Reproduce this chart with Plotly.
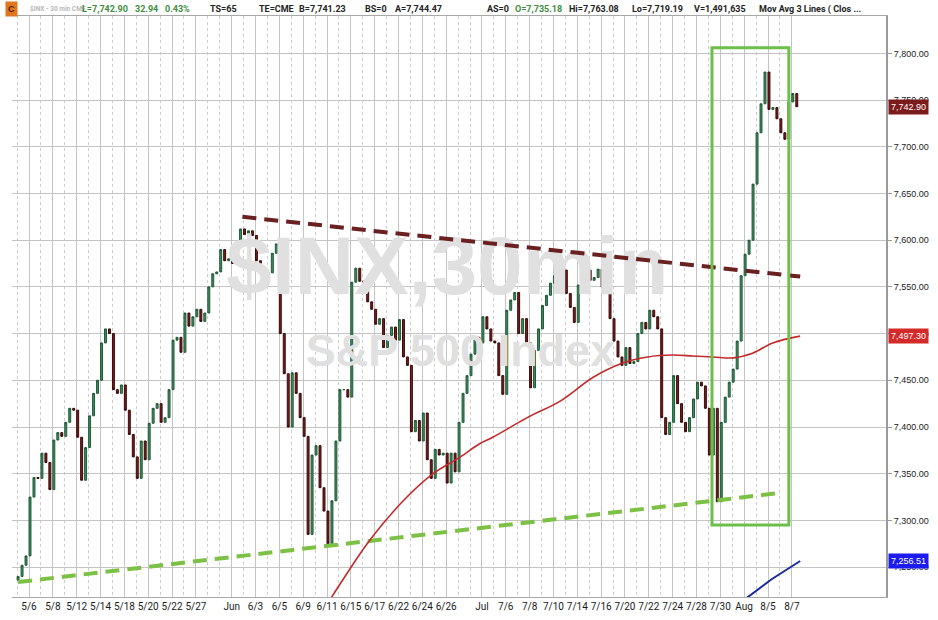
import plotly.graph_objects as go

# 30 min closes, three bars per trading day
closes = [
    7240, 7252, 7262, 7325, 7346, 7345, 7372, 7362, 7333,
    7386, 7394, 7390, 7405, 7420, 7418, 7389, 7343, 7378,
    7412, 7436, 7450, 7490, 7505, 7500, 7440, 7436, 7445,
    7418, 7392, 7368, 7345, 7385, 7365, 7404, 7420, 7425,
    7405, 7410, 7440, 7493, 7496, 7480, 7522, 7508, 7518,
    7526, 7513, 7522, 7550, 7564, 7566, 7590, 7578, 7580,
    7575, 7593, 7612, 7606, 7610, 7605, 7578, 7568, 7558,
    7565, 7586, 7596, 7500, 7457, 7400, 7458, 7436, 7410,
    7390, 7285, 7370, 7380, 7335, 7310, 7275, 7321, 7385,
    7440, 7440, 7432, 7555, 7570, 7556, 7548, 7534, 7526,
    7510, 7516, 7485, 7498, 7507, 7493, 7515, 7475, 7466,
    7395, 7407, 7385, 7415, 7365, 7345, 7376, 7370, 7372,
    7340, 7372, 7352, 7405, 7436, 7455, 7478, 7496, 7490,
    7518, 7505, 7492, 7490, 7455, 7435, 7525, 7536, 7544,
    7500, 7516, 7490, 7442, 7482, 7505, 7530, 7541, 7554,
    7562, 7570, 7568, 7543, 7528, 7512, 7552, 7548, 7568,
    7557, 7560, 7569, 7550, 7544, 7516, 7492, 7475, 7466,
    7485, 7468, 7470, 7500, 7512, 7505, 7525, 7518, 7505,
    7410, 7392, 7405, 7455, 7425, 7405, 7395, 7410, 7430,
    7448, 7444, 7420, 7370, 7420, 7320, 7405, 7432, 7448,
    7462, 7492, 7562, 7585, 7600, 7660, 7715, 7746, 7780,
    7740, 7742, 7730, 7715, 7708, 7748, 7757, 7742.90,
]
first_open = 7236
first_day = -0.92
bars_per_day = 3

# trading-day index of each date label
tick_days = [0, 2, 4, 6, 8, 10, 12, 14, 17, 19, 21, 23, 25, 27, 29, 31, 33, 35,
             38, 40, 42, 44, 46, 48, 50, 52, 54, 56, 58, 60, 62, 64]
tick_text = ["5/6", "5/8", "5/12", "5/14", "5/18", "5/20", "5/22", "5/27", "Jun",
             "6/3", "6/5", "6/9", "6/11", "6/15", "6/17", "6/22", "6/24", "6/26",
             "Jul", "7/6", "7/8", "7/10", "7/14", "7/16", "7/20", "7/22", "7/24",
             "7/28", "7/30", "Aug", "8/5", "8/7"]
minor_days = [d for d in range(-1, 64) if d not in tick_days]

# moving averages
ma_long_days = [25.1, 26.3, 28.6, 31.4, 33.9, 36.2, 37.8, 38.9, 41.8, 44.6, 47.3,
                49.7, 51.9, 54.0, 55.7, 57.4, 59.1, 60.7, 62.4, 64.7]
ma_long = [7212, 7236, 7279, 7321, 7350, 7368, 7382, 7389, 7410, 7428, 7453,
           7468, 7475, 7477, 7476, 7475, 7474, 7479, 7490, 7497.30]
ma_short_days = [59.9, 62.3, 64.7]
ma_short = [7214, 7237, 7256.51]

# drawn trend lines and box
resist_days = [17.9, 64.7]
resist_vals = [7625, 7561]
support_days = [-0.92, 62.75]
support_vals = [7234, 7329]
box_days = [57.3, 63.75]
box_vals = [7295, 7806]

header = [
    ("$INX - 30 min CME", "#b8b8b8", 28, 6.5),
    ("L=7,742.90", "#3d8f3d", 80, 9),
    ("32.94", "#3d8f3d", 133, 9),
    ("0.43%", "#3d8f3d", 163, 9),
    ("TS=65", "#222222", 208, 9),
    ("TE=CME", "#222222", 257, 9),
    ("B=7,741.23", "#222222", 297, 9),
    ("BS=0", "#222222", 363, 9),
    ("A=7,744.47", "#222222", 393, 9),
    ("AS=0", "#222222", 485, 9),
    ("O=7,735.18", "#3d8f3d", 513, 9),
    ("Hi=7,763.08", "#222222", 567, 9),
    ("Lo=7,719.19", "#222222", 630, 9),
    ("V=1,491,635", "#222222", 692, 9),
    ("Mov Avg 3 Lines ( Clos ...", "#222222", 757, 9),
]

days = [first_day + i / bars_per_day for i in range(len(closes))]
opens = [first_open] + closes[:-1]
highs = [max(o, c) for o, c in zip(opens, closes)]
lows = [min(o, c) for o, c in zip(opens, closes)]

fig = go.Figure()

# watermark behind the bars
fig.add_trace(go.Scatter(
    x=[35.1, 36.2], y=[7564, 7477], mode="text",
    text=["<b>$INX,30min</b>", "<b>S&P 500 Index</b>"],
    textfont=dict(size=[82, 45], color="#e0e0e0", family="Liberation Sans"),
    hoverinfo="skip", showlegend=False))

fig.add_trace(go.Scatter(
    x=support_days, y=support_vals, mode="lines",
    line=dict(color="#7cc145", width=4, dash="14px,8px"), showlegend=False))
fig.add_trace(go.Scatter(
    x=resist_days, y=resist_vals, mode="lines",
    line=dict(color="#6a2020", width=4, dash="14px,8px"), showlegend=False))

fig.add_trace(go.Candlestick(
    x=days, open=opens, high=highs, low=lows, close=closes,
    increasing=dict(line=dict(color="#1f5a37", width=1), fillcolor="#3f8c5d"),
    decreasing=dict(line=dict(color="#3a0909", width=1), fillcolor="#7c1d1d"),
    whiskerwidth=0, showlegend=False))

fig.add_trace(go.Scatter(
    x=ma_long_days, y=ma_long, mode="lines", line_shape="spline",
    line=dict(color="#c42a2a", width=1.6), showlegend=False))
fig.add_trace(go.Scatter(
    x=ma_short_days, y=ma_short, mode="lines",
    line=dict(color="#1c2a9e", width=2), showlegend=False))

fig.add_shape(type="rect", x0=box_days[0], x1=box_days[1], y0=box_vals[0], y1=box_vals[1],
              line=dict(color="#6cbf4a", width=3))

# price tags on the right axis
tags = [(closes[-1], "#7b1b1b"), (ma_long[-1], "#d42a2a"), (ma_short[-1], "#1c1cf0")]
for val, col in tags:
    fig.add_annotation(x=1.002, xref="paper", y=val, yref="y", xanchor="left",
                       text=f"{val:,.2f}", showarrow=False, bgcolor=col,
                       font=dict(color="white", size=9, family="Liberation Sans"),
                       borderpad=2)

hdr_y = 1 + 7 / 581
fig.add_annotation(x=-7 / 874, xref="paper", y=hdr_y, yref="paper",
                   xanchor="left", yanchor="middle", text="<b>C</b>", showarrow=False,
                   bgcolor="#e0771c", font=dict(color="#4a2000", size=9), borderpad=2)
for txt, col, px, size in header:
    fig.add_annotation(x=(px - 12) / 874, xref="paper", y=hdr_y, yref="paper",
                       xanchor="left", yanchor="middle", text=f"<b>{txt}</b>",
                       showarrow=False,
                       font=dict(color=col, size=size, family="Roboto"))

fig.update_layout(
    width=938, height=620,
    margin=dict(l=12, r=52, t=16, b=23, autoexpand=False),
    paper_bgcolor="white", plot_bgcolor="white",
    font=dict(family="Liberation Sans", color="#222222"),
    xaxis=dict(range=[-1.43, 71.9], tickmode="array", tickvals=tick_days,
               ticktext=tick_text, showgrid=True, gridcolor="#c4c4c4", gridwidth=1,
               minor=dict(tickmode="array", tickvals=minor_days, showgrid=True,
                          gridcolor="#cccccc", griddash="dot"),
               showline=True, linecolor="#a8a8a8", linewidth=1, mirror=True,
               ticks="", zeroline=False, rangeslider=dict(visible=False),
               automargin=False,
               tickfont=dict(size=10, family="Roboto", color="#1a1a1a")),
    yaxis=dict(range=[7218, 7840], side="right", dtick=50, tick0=7250,
               tickformat=",.2f", showgrid=True, gridcolor="#c4c4c4",
               showline=True, linecolor="#9a9a9a", linewidth=2, ticks="outside",
               ticklen=4, tickcolor="#9a9a9a", zeroline=False, automargin=False,
               tickfont=dict(size=9, color="#222222")),
)

# drop the browser's default page margin so the figure sits at the window corner
fig.write_html("out.html", config={"displayModeBar": False},
               post_script="document.body.style.margin='0px';")
